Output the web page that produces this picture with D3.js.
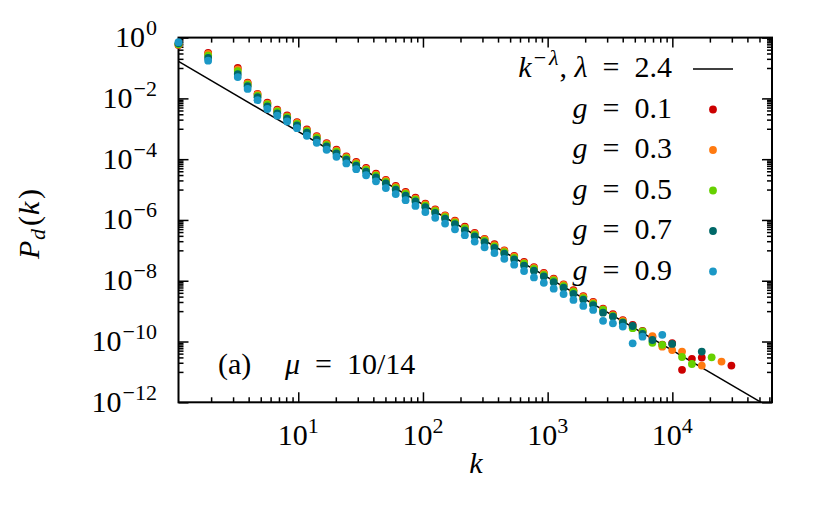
<!DOCTYPE html>
<html>
<head>
<meta charset="utf-8">
<script src="https://cdn.jsdelivr.net/npm/d3@7"></script>
<style>
    body { margin: 0; background: #fff; }
</style>
</head>
<body>
<div id="chart"></div>
<script>
// bin centres k (log bins, ratio 1.2)
const kBins = [1.095, 1.893, 3.271, 3.925, 4.710, 5.652, 6.782, 8.139, 9.767, 11.72, 14.06, 16.88, 20.25,
    24.30, 29.16, 35.00, 42.00, 50.39, 60.47, 72.57, 87.08, 104.5, 125.4, 150.5, 180.6, 216.7, 260.0, 312.0,
    374.4, 449.3, 539.2, 647.0, 776.4, 931.7, 1118, 1342, 1610, 1932, 2318, 2782, 3338, 4006, 4807, 5769,
    6923, 8307, 9969, 11962, 14354, 17225, 20670, 24804, 29765];

// log10 P_d(k) per series (null = no point)
const logP_g01 = [-0.24, -0.50, -1.00, -1.48, -1.85, -2.14, -2.37, -2.56, -2.78, -3.02, -3.24, -3.47, -3.69,
    -3.91, -4.09, -4.29, -4.48, -4.68, -4.88, -5.08, -5.27, -5.46, -5.65, -5.85, -6.02, -6.22, -6.43, -6.62,
    -6.80, -7.00, -7.18, -7.38, -7.55, -7.74, -7.93, -8.12, -8.31, -8.51, -8.70, -8.92, -9.10, -9.30, -9.45,
    -9.65, -9.85, -10.10, -10.05, -10.93, -10.57, -10.53, null, null, -10.79];
const logP_g03 = [-0.23, -0.54, -1.05, -1.51, -1.87, -2.17, -2.40, -2.59, -2.81, -3.05, -3.27, -3.50, -3.72,
    -3.93, -4.12, -4.32, -4.51, -4.71, -4.91, -5.11, -5.30, -5.49, -5.68, -5.87, -6.05, -6.25, -6.45, -6.64,
    -6.83, -7.02, -7.21, -7.41, -7.58, -7.77, -7.96, -8.14, -8.34, -8.53, -8.72, -8.94, -9.13, -9.32, -9.50,
    -9.68, -9.82, -10.17, -10.28, -10.33, null, -10.79, null, -10.66, null];
const logP_g05 = [-0.22, -0.59, -1.10, -1.55, -1.91, -2.20, -2.43, -2.62, -2.84, -3.08, -3.30, -3.53, -3.75,
    -3.97, -4.16, -4.35, -4.54, -4.75, -4.95, -5.14, -5.33, -5.53, -5.71, -5.91, -6.09, -6.28, -6.49, -6.68,
    -6.87, -7.06, -7.25, -7.44, -7.61, -7.81, -7.99, -8.18, -8.37, -8.57, -8.76, -8.96, -9.16, -9.36, -9.56,
    -9.67, -10.04, -10.11, null, -10.51, -10.74, null, -10.52, null, null];
const logP_g07 = [-0.19, -0.67, -1.20, -1.60, -1.96, -2.26, -2.49, -2.67, -2.89, -3.13, -3.36, -3.58, -3.81,
    -4.02, -4.21, -4.41, -4.60, -4.80, -5.00, -5.20, -5.39, -5.58, -5.77, -5.96, -6.14, -6.34, -6.54, -6.73,
    -6.92, -7.11, -7.30, -7.50, -7.67, -7.86, -8.05, -8.23, -8.43, -8.62, -8.80, -9.05, -9.18, -9.38, -9.49,
    -9.75, -9.95, null, -10.08, null, null, -10.33, null, null, null];
const logP_g09 = [-0.15, -0.76, -1.30, -1.69, -2.06, -2.35, -2.57, -2.76, -2.98, -3.23, -3.46, -3.69, -3.92,
    -4.14, -4.33, -4.53, -4.73, -4.95, -5.15, -5.35, -5.54, -5.74, -5.93, -6.12, -6.31, -6.50, -6.71, -6.90,
    -7.09, -7.28, -7.47, -7.68, -7.89, -8.07, -8.26, -8.44, -8.63, -8.83, -8.96, -9.32, -9.40, -9.51, -10.06,
    -9.84, null, -9.78, null, null, null, null, null, null, null];

const seriesNames = ['0.1', '0.3', '0.5', '0.7', '0.9'];
const seriesColors = ['#cc0000', '#ff7a10', '#66d100', '#006868', '#1b98c6'];
const seriesValues = [logP_g01, logP_g03, logP_g05, logP_g07, logP_g09];

// fitted power law k^-lambda
const fitLambda = 2.4;
const fitAmp = 0.204;

const xRange = [1.095, 63000];
const yRange = [1e-12, 1];
const xMajor = [1e1, 1e2, 1e3, 1e4];
const yMajor = [1, 1e-2, 1e-4, 1e-6, 1e-8, 1e-10, 1e-12];
const xLabelExp = ['1', '2', '3', '4'];
const yLabelExp = ['0', '\u22122', '\u22124', '\u22126', '\u22128', '\u221210', '\u221212'];

const width = 831, height = 513;
const margin = {top: 37.6, right: 59, bottom: 110.7, left: 178.5};
const FONT = 'Liberation Serif';

const svg = d3.select('#chart').append('svg')
    .attr('width', width)
    .attr('height', height)
    .attr('font-family', FONT);

const x = d3.scaleLog().domain(xRange).range([margin.left, width - margin.right]);
const y = d3.scaleLog().domain(yRange).range([height - margin.bottom, margin.top]);

// minor ticks: 2..9 in each decade on x, 1..9 x 10^(odd) on y
const xMinor = [];
[1, 10, 100, 1000, 10000].forEach(d => {
    for (let j = 2; j <= 9; j++) {
        const v = j * d;
        if (v > xRange[0] && v < xRange[1]) xMinor.push(v);
    }
});
const yMinor = [];
[1e-1, 1e-3, 1e-5, 1e-7, 1e-9, 1e-11].forEach(d => {
    for (let j = 1; j <= 9; j++) yMinor.push(j * d);
});

const x0 = margin.left, x1 = width - margin.right;
const y0 = margin.top, y1 = height - margin.bottom;

// texts first, as direct children of the svg (serif face kept that way)
function addText(px, py, size, anchor) {
    return svg.append('text')
        .attr('x', px).attr('y', py)
        .attr('text-anchor', anchor || 'start')
        .attr('font-family', FONT)
        .style('font-size', size + 'px')
        .attr('fill', '#000');
}
function tspan(t, str, opts) {
    const s = t.append('tspan').text(str);
    opts = opts || {};
    if (opts.it) s.style('font-style', 'italic');
    if (opts.size) s.style('font-size', opts.size + 'px');
    if (opts.dy) s.attr('dy', opts.dy);
    if (opts.dx) s.attr('dx', opts.dx);
    if (opts.x != null) s.attr('x', opts.x);
    return s;
}

// tick labels 10^n
xMajor.forEach((v, i) => {
    const t = addText(x(v), 445, 30, 'middle');
    tspan(t, '10');
    tspan(t, xLabelExp[i], {size: 22, dy: -12});
});
yMajor.forEach((v, i) => {
    const t = addText(157, y(v) + 9.5, 30, 'end');
    tspan(t, '10');
    tspan(t, yLabelExp[i], {size: 22, dy: -12, dx: 1});
});

// axis titles
tspan(addText(476, 473, 30, 'middle'), 'k', {it: true});

// y title: glyphs turned one by one (rotate attribute), stacked upwards
const yTitleGlyphs = [
    {ch: 'P', it: true, size: 30, bx: 38.5, by: 259},
    {ch: 'd', it: true, size: 22, bx: 45, by: 240},
    {ch: '(', it: false, size: 30, bx: 38.5, by: 226},
    {ch: 'k', it: true, size: 30, bx: 38.5, by: 215},
    {ch: ')', it: false, size: 30, bx: 38.5, by: 199}
];
yTitleGlyphs.forEach(gl => {
    addText(gl.bx, gl.by, gl.size, 'start')
        .attr('rotate', -90)
        .style('font-style', gl.it ? 'italic' : 'normal')
        .text(gl.ch);
});

// legend
const legTextX = 672, legMarkX = 713, legRow0 = 69, legStep = 40.5;
const sp = '\u2002';

const l0 = addText(legTextX, legRow0 + 8, 30, 'end');
tspan(l0, 'k', {it: true});
tspan(l0, '\u2212', {size: 22, dy: -12, dx: 2});
tspan(l0, '\u03bb', {it: true, size: 22, dx: 3});
tspan(l0, ', ', {dy: 12, dx: 1});
tspan(l0, '\u03bb', {it: true});
tspan(l0, sp + '=' + sp + '2.4');

seriesNames.forEach((name, i) => {
    const t = addText(legTextX, legRow0 + legStep * (i + 1) + 8, 30, 'end');
    tspan(t, 'g', {it: true});
    tspan(t, sp + '=' + sp + name);
});

// panel label
const panel = addText(218, 374, 30, 'start');
tspan(panel, '(a)');
tspan(panel, '\u03bc', {it: true, x: 285});
tspan(panel, sp + '=' + sp + '10/14');

// ticks, inward on all four sides
function addAxis(axisFn, scale, pos, values, size) {
    const g = svg.append('g')
        .attr('transform', pos)
        .call(axisFn(scale).tickValues(values).tickSize(-size).tickFormat(''));
    g.select('.domain').remove();
    g.selectAll('line').attr('stroke', '#000').attr('stroke-width', 1.5);
}
[[xMajor, 10], [xMinor, 5]].forEach(([vals, size]) => {
    addAxis(d3.axisBottom, x, `translate(0,${y1})`, vals, size);
    addAxis(d3.axisTop, x, `translate(0,${y0})`, vals, size);
});
[[yMajor, 10], [yMinor, 5]].forEach(([vals, size]) => {
    addAxis(d3.axisLeft, y, `translate(${x0},0)`, vals, size);
    addAxis(d3.axisRight, y, `translate(${x1},0)`, vals, size);
});

// plot frame
svg.append('rect')
    .attr('x', x0).attr('y', y0)
    .attr('width', x1 - x0).attr('height', y1 - y0)
    .attr('fill', 'none')
    .attr('stroke', '#000')
    .attr('stroke-width', 2);

// power law line: from the left edge down to where it leaves through the bottom
const kEnd = Math.min(xRange[1], Math.pow(fitAmp / yRange[0], 1 / fitLambda));
const fitLine = d3.line()
    .x(d => x(d))
    .y(d => y(fitAmp * Math.pow(d, -fitLambda)));
svg.append('path')
    .datum([xRange[0], kEnd])
    .attr('d', fitLine)
    .attr('fill', 'none')
    .attr('stroke', '#000')
    .attr('stroke-width', 1.5);

svg.append('line')
    .attr('x1', 693).attr('x2', 733)
    .attr('y1', legRow0).attr('y2', legRow0)
    .attr('stroke', '#000')
    .attr('stroke-width', 1.5);

const pointR = 3.9;
seriesValues.forEach((vals, s) => {
    const pts = kBins
        .map((k, i) => ({k: k, p: vals[i] == null ? null : Math.pow(10, vals[i])}))
        .filter(d => d.p != null);
    svg.selectAll(null)
        .data(pts)
        .enter()
        .append('circle')
        .attr('cx', d => x(d.k))
        .attr('cy', d => y(d.p))
        .attr('r', pointR)
        .attr('fill', seriesColors[s]);
    svg.append('circle')
        .attr('cx', legMarkX).attr('cy', legRow0 + legStep * (s + 1))
        .attr('r', pointR)
        .attr('fill', seriesColors[s]);
});
</script>
</body>
</html>
